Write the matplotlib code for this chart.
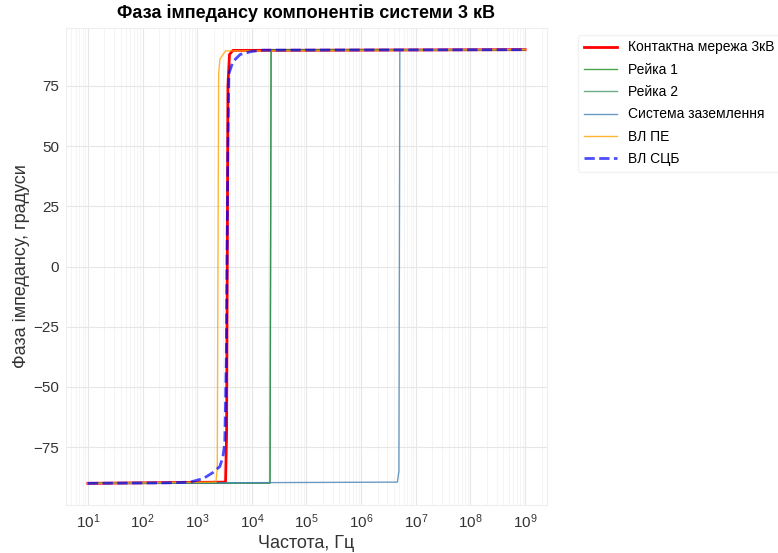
import matplotlib
matplotlib.use("Agg")
import matplotlib.pyplot as plt

plt.rcParams['font.family'] = ['Liberation Sans', 'DejaVu Sans']

# Frequency (Hz) / impedance phase (degrees) for each component
contact_f = [10, 3.3e3, 3.45e3, 3.55e3, 3.65e3, 3.9e3, 4.5e3, 1e9]
contact_ph = [-90, -89.5, -70, 0, 75, 88, 89.7, 90]

rail1_f = [10, 2.15e4, 2.2e4, 2.25e4, 1e9]
rail1_ph = [-90, -89.9, 0, 89.9, 90]

rail2_f = [10, 2.15e4, 2.2e4, 2.25e4, 1e9]
rail2_ph = [-90, -89.9, 0, 89.9, 90]

ground_f = [10, 4.6e6, 4.9e6, 5.0e6, 5.1e6, 1e9]
ground_ph = [-90, -89.5, -85, 0, 89.9, 90]

pe_f = [10, 2.2e3, 2.33e3, 2.4e3, 2.47e3, 2.6e3, 3.3e3, 1e9]
pe_ph = [-90, -89.5, -84, 0, 80, 86, 89.5, 90]

scb_f = [10, 300, 740, 1.3e3, 1.95e3, 2.6e3, 2.96e3, 3.2e3, 3.4e3, 3.5e3,
         3.65e3, 3.8e3, 4.5e3, 6.1e3, 1.0e4, 1.6e4, 1e9]
scb_ph = [-90, -89.8, -89.5, -88, -85.5, -83, -79, -73, -40, 0,
          50, 80, 85, 88, 89.3, 89.8, 90]

x_ticks = [1e1, 1e2, 1e3, 1e4, 1e5, 1e6, 1e7, 1e8, 1e9]
y_ticks = [-75, -50, -25, 0, 25, 50, 75]

fig = plt.figure(figsize=(7.78, 5.53), dpi=100)
ax = fig.add_axes([66 / 778, 1 - 505 / 553, (547 - 66) / 778, (505 - 28) / 553])

ax.semilogx(contact_f, contact_ph, color='red', lw=2, label='Контактна мережа 3кВ')
ax.semilogx(rail1_f, rail1_ph, color='green', lw=1, alpha=0.7, label='Рейка 1')
ax.semilogx(rail2_f, rail2_ph, color='seagreen', lw=1, alpha=0.7, label='Рейка 2')
ax.semilogx(ground_f, ground_ph, color='steelblue', lw=1, alpha=0.8, label='Система заземлення')
ax.semilogx(pe_f, pe_ph, color='orange', lw=1, alpha=0.8, label='ВЛ ПЕ')
ax.semilogx(scb_f, scb_ph, color='blue', lw=2, ls='--', alpha=0.7, label='ВЛ СЦБ')

ax.set_xticks(x_ticks)
ax.set_yticks(y_ticks)
ax.grid(True, which='major', color='#e6e6e6', lw=0.8)
ax.grid(True, which='minor', color='#f3f3f3', lw=0.6)
ax.tick_params(axis='both', which='both', length=0, labelsize=11, colors='#333333', pad=5)
for s in ax.spines.values():
    s.set_color('#eeeeee')

ax.set_title('Фаза імпедансу компонентів системи 3 кВ', fontsize=13, fontweight='bold', pad=7)
ax.set_xlabel('Частота, Гц', fontsize=13, color='#333333', labelpad=3)
ax.set_ylabel('Фаза імпедансу, градуси', fontsize=13, color='#333333', labelpad=2)

ax.legend(loc='upper left', bbox_to_anchor=(1.05, 1), fontsize=10, frameon=True,
          edgecolor='#eeeeee', fancybox=True, handlelength=2.4, labelspacing=0.6)

fig.savefig('out.png', dpi=100)
